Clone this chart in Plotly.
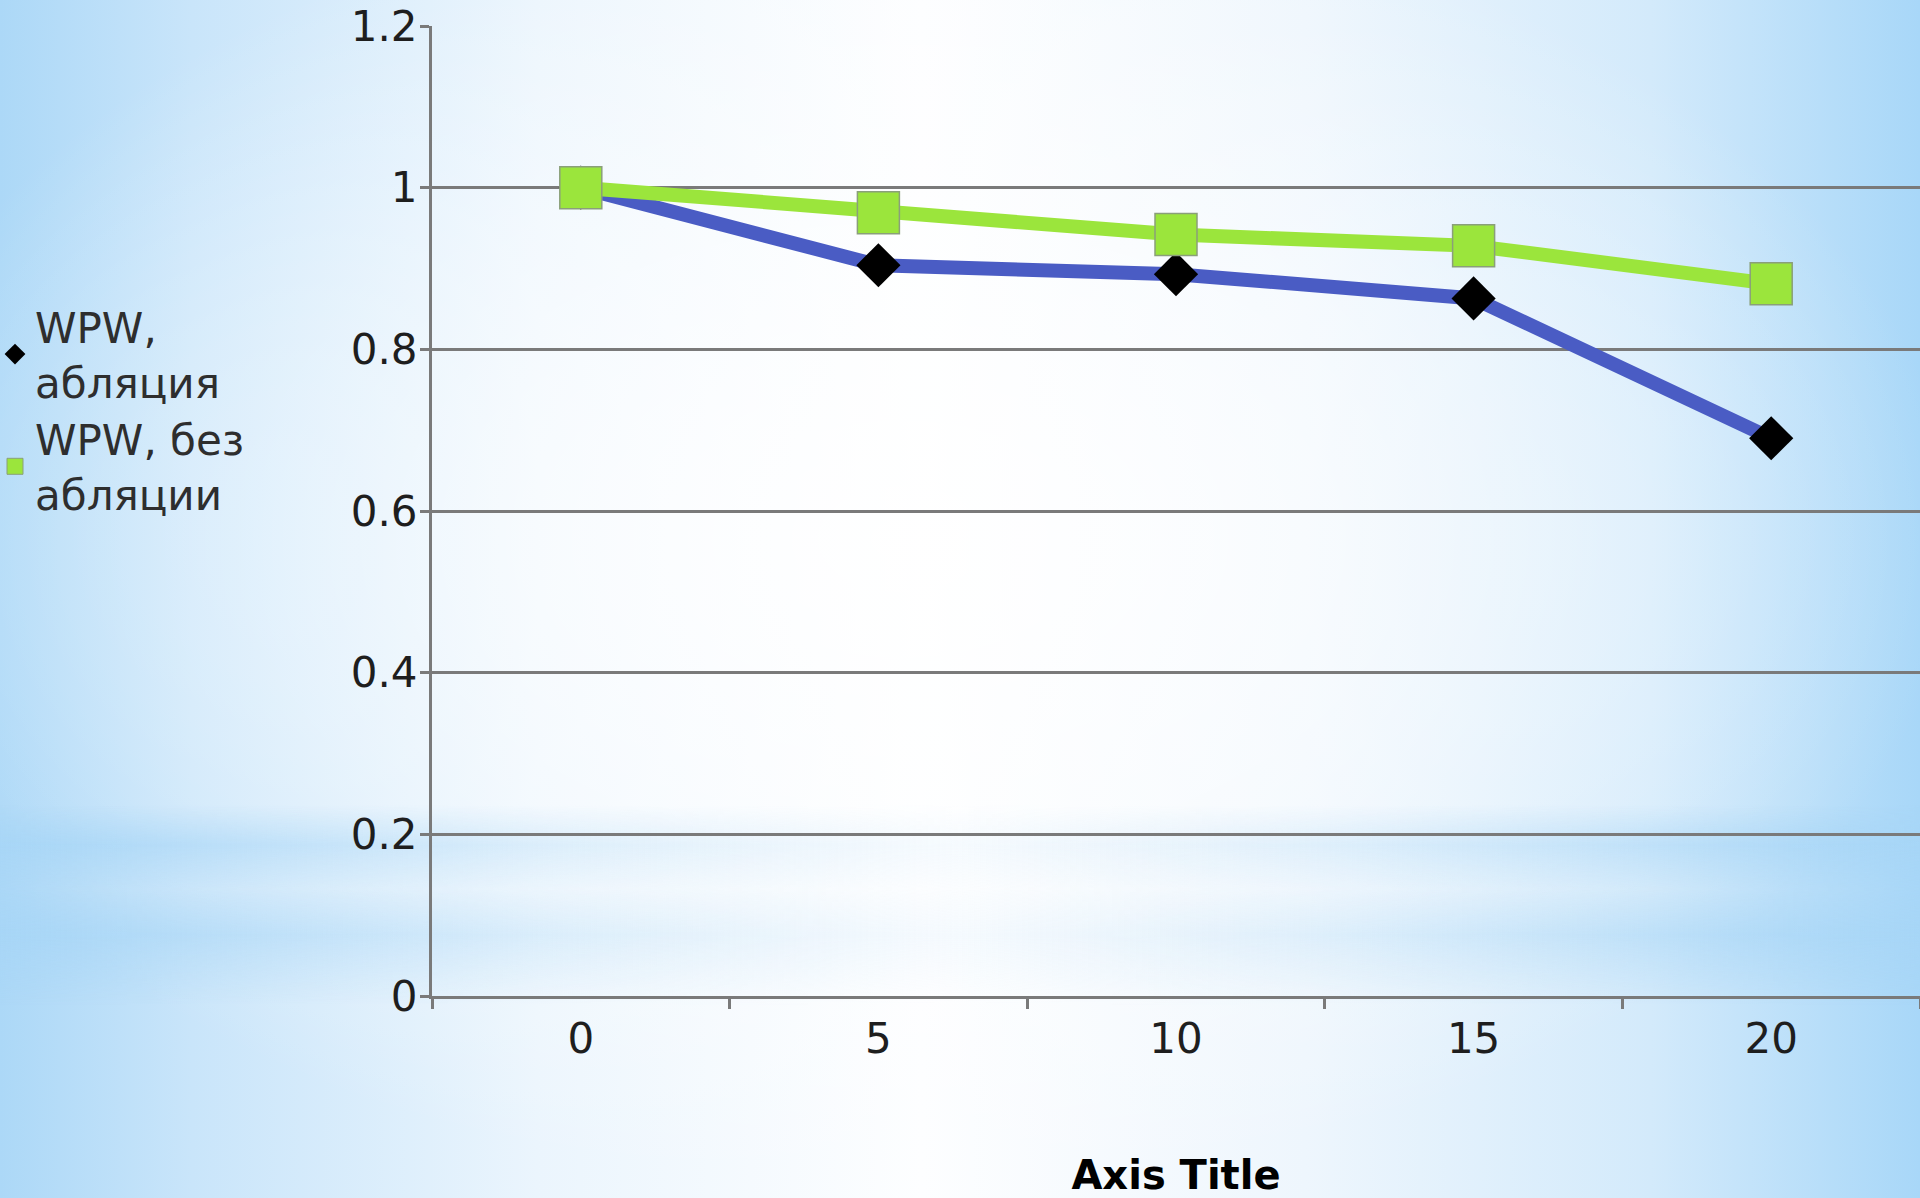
import base64
import plotly.graph_objects as go

# ---- data ----
categories = ["0", "5", "10", "15", "20"]
ablation = [1.0, 0.904, 0.893, 0.863, 0.690]
no_ablation = [1.0, 0.969, 0.942, 0.928, 0.881]
series_names = ["WPW,<br>абляция", "WPW, без<br>абляции"]
y_ticks = [0, 0.2, 0.4, 0.6, 0.8, 1.0, 1.2]
y_ticklabels = ["0", "0.2", "0.4", "0.6", "0.8", "1", "1.2"]
x_title = "Axis Title"

W, H = 1920, 1198
ML, MR, MT, MB = 432, 0, 26, 202
PW, PH = W - ML - MR, H - MT - MB

FONT = "DejaVu Sans, Verdana, sans-serif"
BLUE = "#4a5cc4"
GREEN = "#9be53c"
GRID = "#7a7a7a"

fig = go.Figure()

fig.add_trace(go.Scatter(
    x=categories, y=ablation, mode="lines+markers", showlegend=False,
    line=dict(color=BLUE, width=14),
    marker=dict(symbol="diamond", size=34, color="black",
                line=dict(color="black", width=0)),
))
fig.add_trace(go.Scatter(
    x=categories, y=no_ablation, mode="lines+markers", showlegend=False,
    line=dict(color=GREEN, width=14),
    marker=dict(symbol="square", size=42, color=GREEN,
                line=dict(color="#8a9f7a", width=1.5)),
))
fig.add_trace(go.Scatter(
    x=[None], y=[None], mode="markers", name=series_names[0],
    marker=dict(symbol="diamond", size=16, color="black"),
))
fig.add_trace(go.Scatter(
    x=[None], y=[None], mode="markers", name=series_names[1],
    marker=dict(symbol="square", size=16, color=GREEN,
                line=dict(color="#8a9f7a", width=1)),
))

svg = f'''<svg xmlns="http://www.w3.org/2000/svg" width="{W}" height="{H}" viewBox="0 0 {W} {H}" preserveAspectRatio="none">
<defs>
<linearGradient id="h" x1="0" y1="0" x2="1" y2="0">
<stop offset="0" stop-color="#acd8f7"/>
<stop offset="0.1" stop-color="#c9e5fa"/>
<stop offset="0.28" stop-color="#ebf5fd"/>
<stop offset="0.48" stop-color="#fdfeff"/>
<stop offset="0.68" stop-color="#eef6fd"/>
<stop offset="0.86" stop-color="#d3eafb"/>
<stop offset="1" stop-color="#a8d7f8"/>
</linearGradient>
<radialGradient id="r" cx="0.47" cy="0.45" r="0.55">
<stop offset="0" stop-color="#ffffff" stop-opacity="0.9"/>
<stop offset="0.6" stop-color="#ffffff" stop-opacity="0.4"/>
<stop offset="1" stop-color="#ffffff" stop-opacity="0"/>
</radialGradient>
<linearGradient id="bh" x1="0" y1="0" x2="1" y2="0">
<stop offset="0" stop-color="#a6d5f6" stop-opacity="0.85"/>
<stop offset="0.3" stop-color="#bcdff8" stop-opacity="0.4"/>
<stop offset="0.5" stop-color="#c8e4f9" stop-opacity="0.15"/>
<stop offset="0.7" stop-color="#bcdff8" stop-opacity="0.4"/>
<stop offset="1" stop-color="#a6d5f6" stop-opacity="0.85"/>
</linearGradient>
<linearGradient id="bv" x1="0" y1="0" x2="0" y2="1">
<stop offset="0" stop-color="#000"/>
<stop offset="0.2" stop-color="#fff"/>
<stop offset="0.42" stop-color="#444"/>
<stop offset="0.65" stop-color="#fff"/>
<stop offset="1" stop-color="#000"/>
</linearGradient>
<mask id="m"><rect x="0" y="805" width="{W}" height="200" fill="url(#bv)"/></mask>
</defs>
<rect width="{W}" height="{H}" fill="url(#h)"/>
<rect width="{W}" height="{H}" fill="url(#r)"/>
<rect x="0" y="805" width="{W}" height="200" fill="url(#bh)" mask="url(#m)"/>
</svg>'''
src = "data:image/svg+xml;base64," + base64.b64encode(svg.encode()).decode()

fig.add_layout_image(dict(
    source=src, xref="paper", yref="paper",
    x=-ML / PW, y=1 + MT / PH, sizex=W / PW, sizey=H / PH,
    xanchor="left", yanchor="top", sizing="stretch", layer="below",
))

fig.update_layout(
    width=W, height=H,
    margin=dict(l=ML, r=MR, t=MT, b=MB, autoexpand=False),
    paper_bgcolor="white", plot_bgcolor="rgba(0,0,0,0)",
    font=dict(family=FONT, size=42, color="#1e1e1e"),
    legend=dict(
        x=-(ML + 5) / PW, xanchor="left", y=(996 - 293) / PH, yanchor="top",
        xref="paper", yref="paper",
        bgcolor="rgba(0,0,0,0)", font=dict(size=42, color="#2e2e2e"),
        itemwidth=30, tracegroupgap=0,
    ),
    xaxis=dict(
        type="category", categoryorder="array", categoryarray=categories,
        range=[-0.5, 4.5], tickson="boundaries",
        showline=True, linecolor=GRID, linewidth=3,
        ticks="outside", ticklen=10, tickwidth=3, tickcolor=GRID,
        showgrid=False, zeroline=False, ticklabelstandoff=4,
        tickfont=dict(size=42, color="#1e1e1e"),
        title=dict(text="<b>" + x_title + "</b>", font=dict(size=40, color="black"),
                   standoff=110),
        automargin=False,
    ),
    yaxis=dict(
        range=[0, 1.2], tickvals=y_ticks, ticktext=y_ticklabels,
        showline=True, linecolor=GRID, linewidth=3,
        ticks="outside", ticklen=9, tickwidth=3, tickcolor=GRID,
        showgrid=True, gridcolor=GRID, gridwidth=2.5, zeroline=False,
        ticklabelstandoff=-6,
        tickfont=dict(size=42, color="#1e1e1e"),
        automargin=False,
    ),
)

fig.write_html("out.html", config={"displayModeBar": False},
               post_script="document.body.style.margin='0';")
